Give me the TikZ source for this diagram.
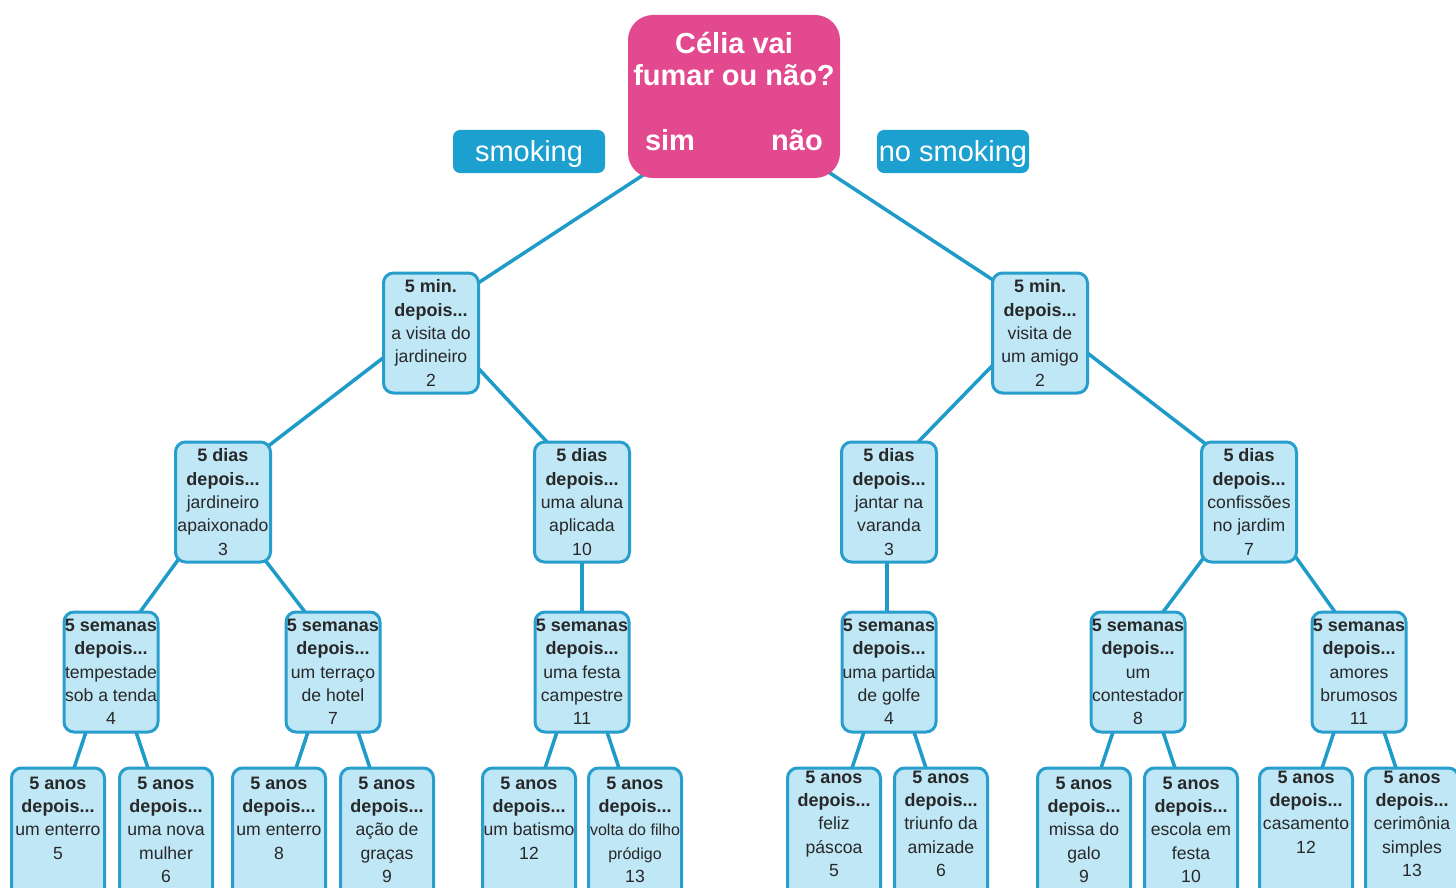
\documentclass[tikz,border=0pt]{standalone}
\usepackage{fontspec}
\setmainfont{Liberation Sans}
\pgfdeclarelayer{bg}
\pgfsetlayers{bg,main}
\definecolor{pinkc}{RGB}{226,73,142}
\definecolor{tagc}{RGB}{27,160,207}
\definecolor{cardfill}{RGB}{192,231,246}
\definecolor{cardline}{RGB}{40,158,205}
\definecolor{edgec}{RGB}{30,155,200}
\definecolor{txt}{RGB}{40,40,40}
\newcommand\hd[1]{{\fontsize{9}{11.65}\selectfont\bfseries #1}}
\begin{document}
\begin{tikzpicture}[x=0.5pt,y=-0.5pt,
  card/.style={draw=cardline, fill=cardfill, line width=1.5pt, rounded corners=5pt,
    minimum width=47.5pt, minimum height=60pt, inner sep=0pt, align=center,
    text=txt, font=\fontsize{8.8}{11.65}\selectfont},
  card3/.style={card, minimum width=47pt},
  leaf/.style={card, minimum width=46.5pt, minimum height=67.5pt},
  leaftext/.style={inner sep=0pt, align=center, anchor=north, text=txt,
    font=\fontsize{8.8}{11.65}\selectfont},
  rootbox/.style={fill=pinkc, rounded corners=12.5pt, minimum width=106pt,
    minimum height=81.5pt, inner sep=0pt},
  titletext/.style={text=white, align=center, inner sep=0pt,
    font=\fontsize{14.5}{16}\selectfont\bfseries},
  tag/.style={fill=tagc, rounded corners=3.5pt, minimum width=76pt, minimum height=21.5pt,
    inner sep=0pt, text=white, text height=10.5pt, text depth=0pt,
    font=\fontsize{14.5}{16}\selectfont},
  edge/.style={draw=edgec, line width=1.75pt}
]
\useasboundingbox (0,0) rectangle (1456,888);
\clip (0,0) rectangle (1456,888);

% root
\node[rootbox] (root) at (734,96.5) {};
\node[titletext] (title) at (734,59) {Célia vai\\fumar ou não?};
\node[titletext] (sim) at (670,140) {sim};
\node[titletext] (nao) at (797,140) {não};
\node[tag] (smk) at (529,151.5) {smoking};
\node[tag] (nosmk) at (953,151.5) {no smoking};

% level 1
\node[card] (a) at (431,333) {\hd{5 min.}\\\hd{depois...}\\a visita do\\jardineiro\\2};
\node[card] (b) at (1040,333) {\hd{5 min.}\\\hd{depois...}\\visita de\\um amigo\\2};

% level 2
\node[card] (c) at (223,502) {\hd{5 dias}\\\hd{depois...}\\jardineiro\\apaixonado\\3};
\node[card] (d) at (582,502) {\hd{5 dias}\\\hd{depois...}\\uma aluna\\aplicada\\10};
\node[card] (e) at (889,502) {\hd{5 dias}\\\hd{depois...}\\jantar na\\varanda\\3};
\node[card] (f) at (1249,502) {\hd{5 dias}\\\hd{depois...}\\confissões\\no jardim\\7};

% level 3
\node[card3] (g) at (111,672) {\hd{5 semanas}\\\hd{depois...}\\tempestade\\sob a tenda\\4};
\node[card3] (h) at (333,672) {\hd{5 semanas}\\\hd{depois...}\\um terraço\\de hotel\\7};
\node[card3] (i) at (582,672) {\hd{5 semanas}\\\hd{depois...}\\uma festa\\campestre\\11};
\node[card3] (j) at (889,672) {\hd{5 semanas}\\\hd{depois...}\\uma partida\\de golfe\\4};
\node[card3] (k) at (1138,672) {\hd{5 semanas}\\\hd{depois...}\\um\\contestador\\8};
\node[card3] (l) at (1359,672) {\hd{5 semanas}\\\hd{depois...}\\amores\\brumosos\\11};

% level 4 boxes
\node[leaf] (m) at (58,835.5) {};
\node[leaf] (n) at (166,835.5) {};
\node[leaf] (o) at (279,835.5) {};
\node[leaf] (p) at (387,835.5) {};
\node[leaf] (q) at (529,835.5) {};
\node[leaf] (r) at (635,835.5) {};
\node[leaf] (s) at (834,835.5) {};
\node[leaf] (t) at (941,835.5) {};
\node[leaf] (u) at (1084,835.5) {};
\node[leaf] (v) at (1191,835.5) {};
\node[leaf] (w) at (1306,835.5) {};
\node[leaf] (x) at (1412,835.5) {};

% level 4 texts
\node[leaftext] (mt) at ([shift={(0,-59)}]m.center) {\hd{5 anos}\\\hd{depois...}\\um enterro\\5};
\node[leaftext] (nt) at ([shift={(0,-59)}]n.center) {\hd{5 anos}\\\hd{depois...}\\uma nova\\mulher\\6};
\node[leaftext] (ot) at ([shift={(0,-59)}]o.center) {\hd{5 anos}\\\hd{depois...}\\um enterro\\8};
\node[leaftext] (pt) at ([shift={(0,-59)}]p.center) {\hd{5 anos}\\\hd{depois...}\\ação de\\graças\\9};
\node[leaftext] (qt) at ([shift={(0,-59)}]q.center) {\hd{5 anos}\\\hd{depois...}\\um batismo\\12};
\node[leaftext] (rt) at ([shift={(0,-59)}]r.center) {\hd{5 anos}\\\hd{depois...}\\{\fontsize{8}{11.65}\selectfont volta do filho}\\{\fontsize{8}{11.65}\selectfont pródigo}\\13};
\node[leaftext] (st) at ([shift={(0,-65)}]s.center) {\hd{5 anos}\\\hd{depois...}\\feliz\\páscoa\\5};
\node[leaftext] (tt) at ([shift={(0,-65)}]t.center) {\hd{5 anos}\\\hd{depois...}\\triunfo da\\amizade\\6};
\node[leaftext] (ut) at ([shift={(0,-59)}]u.center) {\hd{5 anos}\\\hd{depois...}\\missa do\\galo\\9};
\node[leaftext] (vt) at ([shift={(0,-59)}]v.center) {\hd{5 anos}\\\hd{depois...}\\escola em\\festa\\10};
\node[leaftext] (wt) at ([shift={(0,-65)}]w.center) {\hd{5 anos}\\\hd{depois...}\\casamento\\12};
\node[leaftext] (xt) at ([shift={(0,-65)}]x.center) {\hd{5 anos}\\\hd{depois...}\\cerimônia\\simples\\13};

\begin{pgfonlayer}{bg}
\fill[white] (0,0) rectangle (1456,888);
% root to level 1
\draw[edge] ([shift={(-74,67.5)}]root.center) -- ([shift={(34,-41.4)}]a.center);
\draw[edge] ([shift={(83,68)}]root.center) -- ([shift={(-34.2,-44.6)}]b.center);
% level 1 to level 2
\draw[edge] ([shift={(-36.4,16.1)}]a.center) -- ([shift={(34.7,-47.9)}]c.center);
\draw[edge] ([shift={(40.1,27.6)}]a.center) -- ([shift={(-28.1,-52.6)}]d.center);
\draw[edge] ([shift={(-43,27.8)}]b.center) -- ([shift={(24,-54.8)}]e.center);
\draw[edge] ([shift={(38.7,13.3)}]b.center) -- ([shift={(-34.7,-51.3)}]f.center);
% level 2 to level 3
\draw[edge] ([shift={(-39.3,50.2)}]c.center) -- ([shift={(23.3,-52.2)}]g.center);
\draw[edge] ([shift={(36,50.2)}]c.center) -- ([shift={(-22,-52.2)}]h.center);
\draw[edge] (d.center) -- (i.center);
\draw[edge] ([shift={(-2,0)}]e.center) -- ([shift={(-2,0)}]j.center);
\draw[edge] ([shift={(-37.7,45.6)}]f.center) -- ([shift={(18.7,-51.6)}]k.center);
\draw[edge] ([shift={(40,45.6)}]f.center) -- ([shift={(-18,-51.6)}]l.center);
% level 3 to level 4
\draw[edge] ([shift={(-22.7,53)}]g.center) -- ([shift={(12.7,-57.5)}]m.center);
\draw[edge] ([shift={(22.7,53)}]g.center) -- ([shift={(-14.7,-57.5)}]n.center);
\draw[edge] ([shift={(-22.7,53)}]h.center) -- ([shift={(13.7,-57.5)}]o.center);
\draw[edge] ([shift={(22.7,53)}]h.center) -- ([shift={(-13.7,-57.5)}]p.center);
\draw[edge] ([shift={(-22.7,53)}]i.center) -- ([shift={(12.7,-57.5)}]q.center);
\draw[edge] ([shift={(22.7,53)}]i.center) -- ([shift={(-12.7,-57.5)}]r.center);
\draw[edge] ([shift={(-22.7,53)}]j.center) -- ([shift={(14.7,-57.5)}]s.center);
\draw[edge] ([shift={(22.7,53)}]j.center) -- ([shift={(-11.7,-57.5)}]t.center);
\draw[edge] ([shift={(-22.7,53)}]k.center) -- ([shift={(13.7,-57.5)}]u.center);
\draw[edge] ([shift={(22.7,53)}]k.center) -- ([shift={(-12.7,-57.5)}]v.center);
\draw[edge] ([shift={(-22.7,53)}]l.center) -- ([shift={(12.7,-57.5)}]w.center);
\draw[edge] ([shift={(22.7,53)}]l.center) -- ([shift={(-12.7,-57.5)}]x.center);
\end{pgfonlayer}
\end{tikzpicture}
\end{document}
